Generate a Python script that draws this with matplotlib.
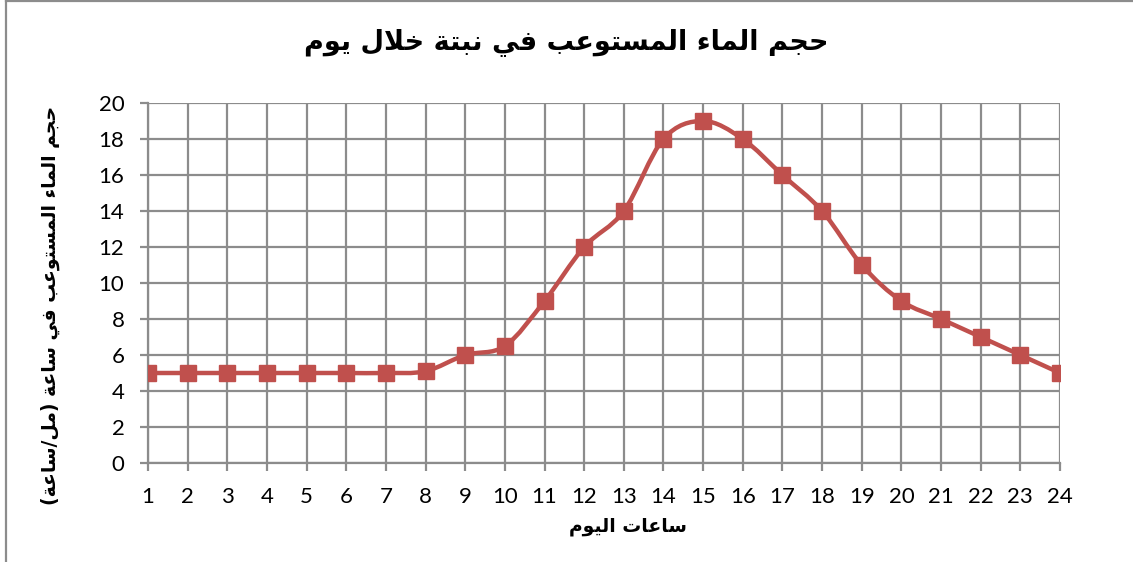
import matplotlib
matplotlib.use("Agg")
import matplotlib.pyplot as plt
from matplotlib.path import Path
from matplotlib.patches import PathPatch
from matplotlib.lines import Line2D

hours = list(range(1, 25))
water = [5, 5, 5, 5, 5, 5, 5, 5.1, 6, 6.5, 9, 12, 14, 18, 19, 18, 16, 14, 11, 9, 8, 7, 6, 5]
y_ticks = [0, 2, 4, 6, 8, 10, 12, 14, 16, 18, 20]

title_text = "حجم الماء المستوعب في نبتة خلال يوم"
xlabel_text = "ساعات اليوم"
ylabel_text = "حجم الماء المستوعب في ساعة (مل/ساعة)"

# minimal arabic shaping: (isolated, final, initial, medial)
FORMS = {
    'ا': ('\uFE8D', '\uFE8E', None, None),
    'ء': ('\uFE80', None, None, None),
    'ب': ('\uFE8F', '\uFE90', '\uFE91', '\uFE92'),
    'ة': ('\uFE93', '\uFE94', None, None),
    'ت': ('\uFE95', '\uFE96', '\uFE97', '\uFE98'),
    'ج': ('\uFE9D', '\uFE9E', '\uFE9F', '\uFEA0'),
    'ح': ('\uFEA1', '\uFEA2', '\uFEA3', '\uFEA4'),
    'خ': ('\uFEA5', '\uFEA6', '\uFEA7', '\uFEA8'),
    'س': ('\uFEB1', '\uFEB2', '\uFEB3', '\uFEB4'),
    'ع': ('\uFEC9', '\uFECA', '\uFECB', '\uFECC'),
    'ف': ('\uFED1', '\uFED2', '\uFED3', '\uFED4'),
    'ل': ('\uFEDD', '\uFEDE', '\uFEDF', '\uFEE0'),
    'م': ('\uFEE1', '\uFEE2', '\uFEE3', '\uFEE4'),
    'ن': ('\uFEE5', '\uFEE6', '\uFEE7', '\uFEE8'),
    'و': ('\uFEED', '\uFEEE', None, None),
    'ي': ('\uFEF1', '\uFEF2', '\uFEF3', '\uFEF4'),
}
MIRROR = {'(': ')', ')': '('}


def dual(c):
    return c in FORMS and FORMS[c][2] is not None


def joins_right(c):
    return c in FORMS and FORMS[c][1] is not None


def shape(text):
    out = []
    i = 0
    n = len(text)
    while i < n:
        c = text[i]
        prev = text[i - 1] if i > 0 else ''
        if c == 'ل' and i + 1 < n and text[i + 1] == 'ا':
            out.append('\uFEFC' if dual(prev) else '\uFEFB')
            i += 2
            continue
        if c not in FORMS:
            out.append(MIRROR.get(c, c))
            i += 1
            continue
        nxt = text[i + 1] if i + 1 < n else ''
        left = dual(prev) and joins_right(c)
        right = dual(c) and joins_right(nxt)
        iso, fin, ini, med = FORMS[c]
        if left and right:
            out.append(med)
        elif left:
            out.append(fin)
        elif right:
            out.append(ini)
        else:
            out.append(iso)
        i += 1
    return ''.join(reversed(out))


def smooth_path(xs, ys):
    # excel style smoothed line (catmull-rom as cubic bezier)
    verts = [(xs[0], ys[0])]
    codes = [Path.MOVETO]
    n = len(xs)
    for i in range(n - 1):
        x0, y0 = (xs[i - 1], ys[i - 1]) if i > 0 else (xs[i], ys[i])
        x1, y1 = xs[i], ys[i]
        x2, y2 = xs[i + 1], ys[i + 1]
        x3, y3 = (xs[i + 2], ys[i + 2]) if i + 2 < n else (x2, y2)
        c1 = (x1 + (x2 - x0) / 6, y1 + (y2 - y0) / 6)
        c2 = (x2 - (x3 - x1) / 6, y2 - (y3 - y1) / 6)
        verts += [c1, c2, (x2, y2)]
        codes += [Path.CURVE4] * 3
    return Path(verts, codes)


red = '#C0504D'
grid = '#8C8C8C'

fig = plt.figure(figsize=(11.33, 5.62), dpi=100)
ax = fig.add_axes([148 / 1133, 1 - 463 / 562, (1060 - 148) / 1133, (463 - 103) / 562])

ax.add_patch(PathPatch(smooth_path(hours, water), facecolor='none', edgecolor=red, lw=3.2, zorder=3))
ax.plot(hours, water, ls='none', marker='s', ms=11, color=red, zorder=4)

ax.set_xlim(1, 24)
ax.set_ylim(0, 20)
ax.set_xticks(hours)
ax.set_yticks(y_ticks)
ax.grid(True, color=grid, lw=1.6)
ax.set_axisbelow(True)
for s in ['top', 'right']:
    ax.spines[s].set_visible(False)
for s in ['left', 'bottom']:
    ax.spines[s].set_color(grid)
    ax.spines[s].set_linewidth(1.6)
ax.tick_params(axis='both', colors=grid, width=1.6, length=6, direction='out',
               labelcolor='black', labelsize=16)
ax.tick_params(axis='x', pad=11)
ax.tick_params(axis='y', pad=11)
for lab in ax.get_xticklabels() + ax.get_yticklabels():
    lab.set_family('Lato')

fig.text(0.5, 1 - 42 / 562, shape(title_text), ha='center', va='center',
         fontsize=19.5, fontweight='bold', family='DejaVu Sans')
fig.text(628 / 1133, 1 - 527 / 562, shape(xlabel_text), ha='center', va='center',
         fontsize=13.5, fontweight='bold', family='DejaVu Sans')
fig.text(50 / 1133, 1 - 305 / 562, shape(ylabel_text), ha='center', va='center',
         rotation=90, fontsize=13.5, fontweight='bold', family='DejaVu Sans')

# chart frame
fig.add_artist(Line2D([6 / 1133, 6 / 1133], [0, 1 - 1 / 562], color=grid, lw=1.6))
fig.add_artist(Line2D([6 / 1133, 1], [1 - 1 / 562, 1 - 1 / 562], color=grid, lw=1.6))

fig.savefig('out.png', dpi=100)
